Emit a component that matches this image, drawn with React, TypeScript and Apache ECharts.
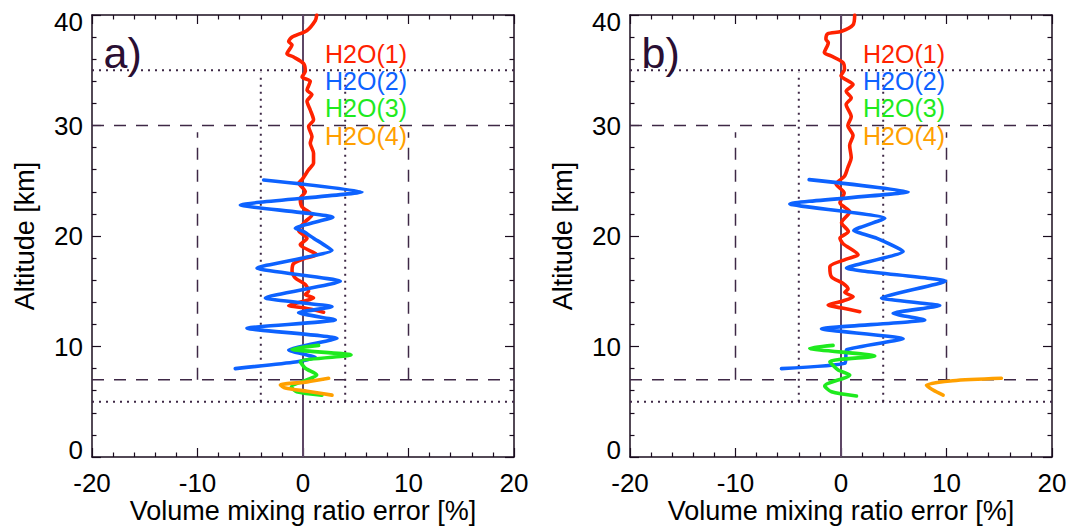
import React, { useEffect, useRef } from "react";
import * as echarts from "echarts";

// ---- axes ----
const xRange = [-20, 20];
const yRange = [0, 40];
const xTickStep = 10;
const yTickStep = 10;
const xAxisTitle = "Volume mixing ratio error [%]";
const yAxisTitle = "Altitude [km]";
const panelLabels = ["a)", "b)"];

// ---- reference lines ----
const dashedLevels = [7, 30];
const dottedLevels = [5, 35];
const dashedCols = [-10, 10];
const dashedColSpan = [7, 29.4];
const dottedCols = [-4, 4];
const dottedColSpan = [5, 34.8];
const zeroCol = 0;

// ---- series ----
const seriesNames = ["H2O(1)", "H2O(2)", "H2O(3)", "H2O(4)"];
const seriesColors = ["#ff2200", "#0d62ff", "#1eea1e", "#ffa000"];

// panel a) : [error %, altitude km]
const h2o1A: number[][] = [
  [1.3, 40.0], [1.17, 39.5], [0.38, 38.6], [-1.04, 38.0], [-1.36, 37.6], [-1.04, 37.3],
  [-1.52, 36.5], [-0.89, 36.2], [0.06, 35.6], [0.22, 34.9], [-0.09, 34.4], [0.69, 34.0],
  [0.38, 33.2], [0.85, 32.8], [0.38, 32.2], [0.69, 31.4], [1.0, 30.5], [0.53, 29.9],
  [0.85, 29.0], [0.69, 28.4], [1.0, 27.5], [1.0, 26.6], [0.53, 26.0], [-0.1, 25.1],
  [-0.4, 24.8], [0.22, 24.0], [-0.26, 23.4], [-0.1, 22.65], [0.85, 21.9], [0.22, 21.3],
  [-0.42, 20.5], [0.38, 19.8], [-0.26, 19.2], [1.33, 18.3], [0.22, 18.0], [-0.89, 17.5],
  [-1.04, 16.8], [-0.73, 16.2], [0.22, 15.6], [0.53, 15.0], [0.22, 14.7], [1.0, 14.4],
  [0.06, 14.1], [-1.36, 13.7], [0.06, 13.5], [1.95, 13.1],
];
const h2o2A: number[][] = [
  [-3.73, 25.07], [5.59, 24.0], [-5.94, 22.8], [2.84, 21.7], [-0.73, 20.7], [0.06, 20.4],
  [1.0, 19.8], [2.75, 18.7], [-4.36, 17.1], [3.54, 15.9], [-3.57, 14.4], [2.75, 13.6],
  [-0.42, 13.06], [3.06, 12.4], [-5.31, 11.65], [3.22, 10.74], [-1.36, 9.68], [1.17, 9.0],
  [-0.73, 8.6], [-6.42, 8.0],
];
const h2o3A: number[][] = [
  [1.48, 10.1], [-1.04, 9.75], [4.55, 9.23], [-0.26, 8.62], [0.22, 8.03], [1.3, 7.42],
  [0.3, 6.95], [-1.1, 6.35], [-0.6, 5.9], [1.8, 5.6],
];
const h2o4A: number[][] = [
  [2.43, 7.12], [0.4, 6.8], [-2.15, 6.52], [-1.68, 6.25], [0.4, 5.95], [2.75, 5.6],
];

// panel b)
const h2o1B: number[][] = [
  [1.3, 40.0], [1.14, 39.1], [0, 38.5], [-1.27, 38.3], [-1.43, 37.8], [-1.2, 37.5],
  [-1.58, 36.6], [-0.95, 36.3], [0.18, 35.7], [0.33, 35.1], [0, 34.5], [1.14, 33.7],
  [0.49, 33.1], [0.97, 32.5], [0.49, 31.9], [0.97, 30.8], [0.65, 30.0], [1.14, 29.1],
  [0.82, 28.2], [0.97, 27.1], [0.65, 26.2], [0.33, 25.4], [-0.47, 24.7], [0.3, 23.9],
  [-0.1, 23.0], [0.83, 22.2], [0.05, 21.2], [0.7, 20.4], [-0.1, 19.8], [0.2, 19.3],
  [1.62, 18.3], [0.5, 17.9], [-1.06, 17.2], [-0.9, 16.3], [0.2, 15.7], [0.67, 15.2],
  [0.36, 14.9], [1.15, 14.5], [0.1, 14.1], [-1.22, 13.75], [0.0, 13.5], [1.78, 13.15],
];
const h2o2B: number[][] = [
  [-3.02, 25.1], [6.36, 24.0], [-4.85, 22.9], [4.15, 21.6], [1.21, 20.5], [3.36, 19.8],
  [5.89, 18.6], [0.52, 17.1], [9.9, 15.9], [3.84, 14.4], [9.36, 13.7], [4.94, 13.0],
  [7.94, 12.4], [-1.85, 11.6], [5.89, 10.7], [0.52, 9.7], [0.4, 8.5], [-5.64, 8.0],
];
const h2o3B: number[][] = [
  [-0.75, 10.1], [-2.96, 9.84], [3.2, 9.14], [-1.06, 8.62], [-0.27, 7.87], [0.83, 7.42],
  [-1.54, 6.43], [-0.9, 5.9], [1.47, 5.52],
];
const h2o4B: number[][] = [
  [15.2, 7.12], [10.6, 6.9], [8.1, 6.5], [8.73, 6.06], [9.68, 5.6],
];

const panelSeries = [
  [h2o1A, h2o2A, h2o3A, h2o4A],
  [h2o1B, h2o2B, h2o3B, h2o4B],
];

// ---- layout / style ----
const FONT = "Liberation Sans, Arial, Helvetica, sans-serif";
const FRAME = "#1a0c1e";
const REF = "#3e2846";
const ZERO = "#5e4766";
const grids = [
  { left: 92, top: 15, width: 422, height: 442 },
  { left: 630, top: 15, width: 422, height: 442 },
];

function buildOption() {
  const xAxes: any[] = [];
  const yAxes: any[] = [];
  const series: any[] = [];
  const graphics: any[] = [];

  const tickStyle = { color: FRAME, width: 1.2 };

  grids.forEach((g, p) => {
    const common = {
      type: "value",
      gridIndex: p,
      axisLine: { show: true, onZero: false, lineStyle: { color: FRAME, width: 1.5 } },
      axisTick: { show: true, inside: true, length: 9, lineStyle: tickStyle },
      minorTick: { show: true, splitNumber: 5, length: 4.5, lineStyle: tickStyle },
      splitLine: { show: false },
      minorSplitLine: { show: false },
    };
    xAxes.push({
      ...common,
      position: "bottom",
      min: xRange[0],
      max: xRange[1],
      interval: xTickStep,
      axisLabel: { show: true, margin: 13, fontSize: 26, color: "#000", fontFamily: FONT },
      name: xAxisTitle,
      nameLocation: "middle",
      nameGap: 40,
      nameMoveOverlap: false,
      nameTextStyle: { fontSize: 27, color: "#000", fontFamily: FONT },
    });
    xAxes.push({
      ...common,
      position: "top",
      min: xRange[0],
      max: xRange[1],
      interval: xTickStep,
      axisLabel: { show: false },
    });
    yAxes.push({
      ...common,
      position: "left",
      min: yRange[0],
      max: yRange[1],
      interval: yTickStep,
      axisLabel: {
        show: true,
        margin: 9,
        fontSize: 26,
        color: "#000",
        fontFamily: FONT,
        formatter: (v: number) =>
          v === yRange[0] ? `{lo|${v}}` : v === yRange[1] ? `{hi|${v}}` : `${v}`,
        rich: {
          lo: { fontSize: 26, fontFamily: FONT, color: "#000", padding: [0, 0, 14, 0] },
          hi: { fontSize: 26, fontFamily: FONT, color: "#000", padding: [13, 0, 0, 0] },
        },
      },
      name: yAxisTitle,
      nameLocation: "middle",
      nameGap: 54,
      nameMoveOverlap: false,
      nameTextStyle: { fontSize: 27, color: "#000", fontFamily: FONT },
    });
    yAxes.push({
      ...common,
      position: "right",
      min: yRange[0],
      max: yRange[1],
      interval: yTickStep,
      axisLabel: { show: false },
    });

    const xi = 2 * p;
    const yi = 2 * p;
    const refLine = (data: number[][], type: any, color: string, width: number) => ({
      type: "line",
      xAxisIndex: xi,
      yAxisIndex: yi,
      data,
      symbol: "none",
      silent: true,
      z: 1,
      lineStyle: { color, width, type, cap: "butt" },
    });

    dashedLevels.forEach((lv) =>
      series.push(refLine([[xRange[0], lv], [xRange[1], lv]], [12, 10], REF, 1.5))
    );
    dottedLevels.forEach((lv) =>
      series.push(refLine([[xRange[0], lv], [xRange[1], lv]], [2, 5], REF, 2))
    );
    dashedCols.forEach((c) =>
      series.push(refLine([[c, dashedColSpan[0]], [c, dashedColSpan[1]]], [12, 10], REF, 1.5))
    );
    dottedCols.forEach((c) =>
      series.push(refLine([[c, dottedColSpan[0]], [c, dottedColSpan[1]]], [2, 5], REF, 2))
    );
    series.push(refLine([[zeroCol, yRange[0]], [zeroCol, yRange[1]]], "solid", ZERO, 2));

    panelSeries[p].forEach((d, k) => {
      series.push({
        type: "line",
        name: seriesNames[k],
        xAxisIndex: xi,
        yAxisIndex: yi,
        data: d,
        symbol: "none",
        smooth: k === 1 ? 0.15 : 0.25,
        z: 3 + k,
        lineStyle: { color: seriesColors[k], width: 3.6, join: "round", cap: "round" },
      });
    });

    // panel letter
    graphics.push({
      type: "text",
      left: g.left + 11.5,
      top: 31,
      style: { text: panelLabels[p], fontSize: 43, fontFamily: FONT, fill: "#2a0f33" },
      z: 10,
    });
    // legend texts
    seriesNames.forEach((nm, k) => {
      graphics.push({
        type: "text",
        left: g.left + 233,
        top: 41 + k * 27.4,
        style: { text: nm, fontSize: 25, fontFamily: FONT, fill: seriesColors[k] },
        z: 10,
      });
    });
  });

  return {
    animation: false,
    backgroundColor: "#ffffff",
    grid: grids.map((g) => ({
      ...g,
      containLabel: false,
      outerBoundsMode: "none",
      show: false,
    })),
    xAxis: xAxes,
    yAxis: yAxes,
    series,
    graphic: graphics,
  };
}

export default function App() {
  const ref = useRef<HTMLDivElement>(null);
  useEffect(() => {
    if (!ref.current) return;
    const chart = echarts.init(ref.current, undefined, { renderer: "svg" });
    chart.setOption(buildOption() as any);
    return () => chart.dispose();
  }, []);
  return (
    <div
      ref={ref}
      style={{ position: "absolute", left: 0, top: 0, width: 1067, height: 526, background: "#fff" }}
    />
  );
}
